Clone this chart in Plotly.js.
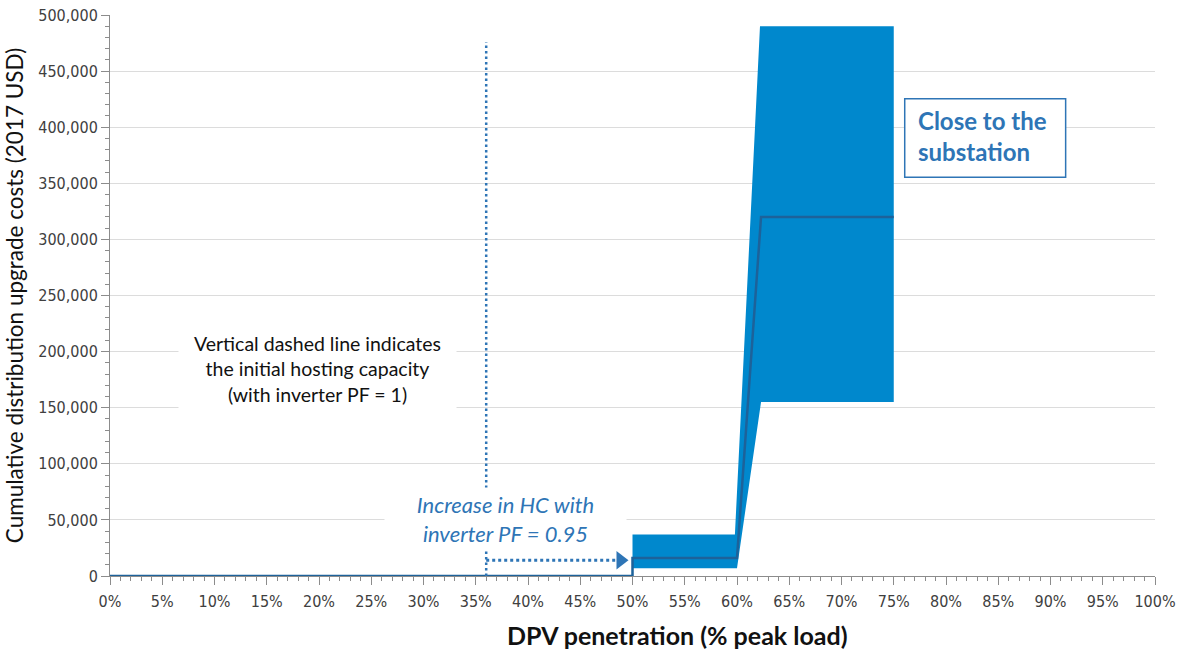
<!DOCTYPE html>
<html>
<head>
<meta charset="utf-8">
<script src="https://cdn.plot.ly/plotly-3.0.1.min.js"></script>
<style>html,body{margin:0;padding:0;background:#fff;}#chart{width:1177px;height:651px;}</style>
</head>
<body>
<div id="chart"></div>
<script>
// DPV penetration (% peak load) and cumulative upgrade costs (2017 USD)
var medianX = [0, 50, 50, 60, 62.3, 75];
var medianY = [0, 0, 16000, 16000, 320000, 320000];
var lowerX = [50, 60, 62.3, 75];
var lowerY = [7000, 7000, 155000, 155000];
var upperX = [50, 59.8, 62.2, 75];
var upperY = [37000, 37000, 490000, 490000];
var hcInitial = 36;          // initial hosting capacity (% peak load), PF = 1
var hcInitialTop = 476000;   // top of the dashed marker line
var hcIncreased = 48.85;     // arrow end, PF = 0.95
var arrowY = 14000;
var xTickVals = [0,5,10,15,20,25,30,35,40,45,50,55,60,65,70,75,80,85,90,95,100];
var xTickText = xTickVals.map(function(v){return v + '%';});
var yTickVals = [0,50000,100000,150000,200000,250000,300000,350000,400000,450000,500000];
var yTickText = ['0','50,000','100,000','150,000','200,000','250,000','300,000','350,000','400,000','450,000','500,000'];

var bandX = lowerX.concat(upperX.slice().reverse());
var bandY = lowerY.concat(upperY.slice().reverse());

var tickFont = {family: '"Liberation Sans Narrow", "DejaVu Sans Condensed", Arial, sans-serif', size: 16, color: '#404040'};
var textFont = 'Lato, "Open Sans", sans-serif';
var blue = '#2e75b6';

var traces = [
  {x: bandX, y: bandY, type: 'scatter', mode: 'lines', fill: 'toself',
   fillcolor: '#0088cd', line: {width: 0, color: '#0088cd'}, hoverinfo: 'skip', showlegend: false},
  {x: medianX, y: medianY, type: 'scatter', mode: 'lines', cliponaxis: false,
   line: {color: '#1d629a', width: 2.5}, hoverinfo: 'skip', showlegend: false},
  {x: [hcInitial, hcInitial], y: [0, hcInitialTop], type: 'scatter', mode: 'lines',
   line: {color: blue, width: 2.5, dash: '2.5px,3px'}, hoverinfo: 'skip', showlegend: false},
  {x: [hcInitial, hcIncreased], y: [arrowY, arrowY], type: 'scatter', mode: 'lines',
   line: {color: blue, width: 3, dash: '3px,3px'}, hoverinfo: 'skip', showlegend: false},
  {x: [hcIncreased], y: [arrowY], type: 'scatter', mode: 'markers', cliponaxis: false,
   marker: {symbol: 'triangle-right', size: 16, color: blue, opacity: 1, line: {width: 0}},
   hoverinfo: 'skip', showlegend: false}
];

var layout = {
  width: 1177, height: 651,
  margin: {l: 110, r: 22, t: 15, b: 75},
  paper_bgcolor: '#ffffff', plot_bgcolor: '#ffffff',
  hovermode: false,
  xaxis: {
    range: [0, 100], tickvals: xTickVals, ticktext: xTickText,
    showgrid: false, zeroline: false, showline: true, linecolor: '#8c8c8c', linewidth: 1,
    ticks: 'outside', ticklen: 8, tickcolor: '#8c8c8c', tickwidth: 1,
    minor: {dtick: 1, ticks: 'outside', ticklen: 4, tickcolor: '#8c8c8c', showgrid: false},
    tickfont: tickFont, ticklabelstandoff: 3
  },
  yaxis: {
    range: [0, 500000], tickvals: yTickVals, ticktext: yTickText,
    showgrid: true, gridcolor: '#dcdcdc', gridwidth: 1,
    zeroline: false, showline: true, linecolor: '#8c8c8c', linewidth: 1,
    ticks: 'outside', ticklen: 8, tickcolor: '#8c8c8c', tickwidth: 1,
    minor: {dtick: 10000, ticks: 'outside', ticklen: 4, tickcolor: '#8c8c8c', showgrid: false},
    tickfont: tickFont,
    title: {text: 'Cumulative distribution upgrade costs (2017 USD)', font: {family: textFont, size: 22.5, color: '#111111'}, standoff: 8}
  },
  shapes: [
    {type: 'rect', xref: 'x', yref: 'y', x0: 76.05, x1: 91.45, y0: 355500, y1: 425300,
     fillcolor: '#ffffff', line: {color: blue, width: 1.5}, layer: 'above'}
  ],
  annotations: [
    {x: 0.5435, y: 0, xref: 'paper', yref: 'paper', yshift: -59, xanchor: 'center', yanchor: 'middle', showarrow: false,
     text: '<b>DPV penetration (% peak load)</b>',
     font: {family: textFont, size: 25, color: '#111111'}},
    {x: 19.9, y: 184500, xref: 'x', yref: 'y', showarrow: false,
     text: 'Vertical dashed line indicates<br>the initial hosting capacity<br>(with inverter PF = 1)',
     font: {family: textFont, size: 19.5, color: '#111111'}, align: 'center',
     bgcolor: '#ffffff', width: 277, height: 86, borderpad: 0},
    {x: 37.85, y: 50800, xref: 'x', yref: 'y', showarrow: false,
     text: '<i>Increase in HC with<br>inverter PF = 0.95</i>',
     font: {family: textFont, size: 22, color: blue}, align: 'center',
     bgcolor: '#ffffff', width: 241, height: 62, borderpad: 0},
    {x: 77.2, y: 137, xref: 'x', yref: 'y', xanchor: 'left', yanchor: 'middle', showarrow: false,
     text: '<b>Close to the<br>substation</b>',
     font: {family: textFont, size: 24, color: blue}, align: 'left', borderpad: 0}
  ]
};
// place the box label at the box's vertical centre, in data units
layout.annotations[3].y = (layout.shapes[0].y0 + layout.shapes[0].y1) / 2 + 1800;

Plotly.newPlot('chart', traces, layout, {displayModeBar: false, staticPlot: true});
</script>
</body>
</html>
